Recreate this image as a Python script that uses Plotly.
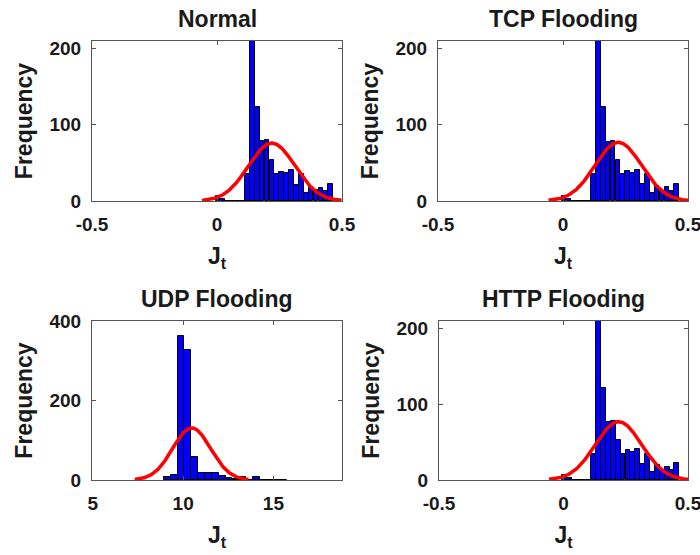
import numpy as np
import plotly.graph_objects as go

# ---------------- data ----------------
titles = ["Normal", "TCP Flooding", "UDP Flooding", "HTTP Flooding"]

jt_centers = [0.004, 0.024, 0.043, 0.063, 0.082, 0.102, 0.122, 0.141, 0.161, 0.180,
              0.200, 0.220, 0.239, 0.259, 0.278, 0.298, 0.318, 0.337, 0.357, 0.376,
              0.396, 0.416, 0.435, 0.455]
jt_bin_width = 0.0196

normal_counts = [7, 2, 0, 0, 0, 0, 35, 220, 123, 79, 80, 54, 36, 38, 37, 41, 21, 36,
                 11, 19, 14, 17, 13, 22]
tcp_counts = [7, 2, 0, 0, 0, 0, 35, 220, 123, 77, 79, 54, 35, 39, 37, 41, 22, 36,
              11, 20, 13, 18, 13, 22]
http_counts = [7, 2, 0, 0, 0, 0, 35, 220, 122, 77, 78, 53, 34, 39, 37, 41, 21, 35,
               11, 20, 13, 17, 13, 22]

udp_centers = [9.12, 9.50, 9.88, 10.26, 10.64, 11.02, 11.40, 11.78, 12.16, 12.54,
               12.92, 13.30, 13.68, 14.06, 14.44, 14.82, 15.20, 15.58]
udp_bin_width = 0.38
udp_counts = [7, 13, 362, 327, 59, 18, 17, 17, 9, 4, 3, 8, 1, 7, 0, 1, 1, 1]

# normal fits (mean, std, peak height)
normal_fit = (0.219, 0.093, 76)
tcp_fit = (0.221, 0.093, 77)
http_fit = (0.221, 0.093, 77)
udp_fit = (10.47, 1.05, 131)

jt_ticks = [-0.5, 0, 0.5]
jt_ticktext = ["-0.5", "0", "0.5"]
udp_ticks = [5, 10, 15]
udp_ticktext = ["5", "10", "15"]
freq_ticks = [0, 100, 200]
udp_freq_ticks = [0, 200, 400]

# ---------------- figure ----------------
W, H = 700, 555
fig = go.Figure()

panels = [
    dict(centers=jt_centers, counts=normal_counts, bw=jt_bin_width, fit=normal_fit,
         xr=[-0.5, 0.5], yr=[0, 210], xt=jt_ticks, xtt=jt_ticktext, yt=freq_ticks,
         px=(92, 342), py=(41, 201)),
    dict(centers=jt_centers, counts=tcp_counts, bw=jt_bin_width, fit=tcp_fit,
         xr=[-0.5, 0.5], yr=[0, 210], xt=jt_ticks, xtt=jt_ticktext, yt=freq_ticks,
         px=(438, 688), py=(41, 201)),
    dict(centers=udp_centers, counts=udp_counts, bw=udp_bin_width, fit=udp_fit,
         xr=[4.95, 18.8], yr=[0, 400], xt=udp_ticks, xtt=udp_ticktext, yt=udp_freq_ticks,
         px=(92, 342), py=(321, 480)),
    dict(centers=jt_centers, counts=http_counts, bw=jt_bin_width, fit=http_fit,
         xr=[-0.5, 0.5], yr=[0, 210], xt=jt_ticks, xtt=jt_ticktext, yt=freq_ticks,
         px=(439, 688), py=(321, 480)),
]

font_family = "Liberation Sans, Arial, sans-serif"
axis_color = "#555555"
txt_color = "#1a1a1a"

for i, p in enumerate(panels):
    n = "" if i == 0 else str(i + 1)
    xa, ya = "x" + n, "y" + n
    fig.add_trace(go.Bar(
        x=p["centers"], y=p["counts"], width=p["bw"],
        marker=dict(color="#0000FF", line=dict(color="black", width=1)),
        xaxis=xa, yaxis=ya, showlegend=False))
    mu, sd, pk = p["fit"]
    xx = np.linspace(mu - 3 * sd, mu + 3 * sd, 200)
    yy = pk * np.exp(-0.5 * ((xx - mu) / sd) ** 2)
    fig.add_trace(go.Scatter(
        x=xx, y=yy, mode="lines", line=dict(color="#FF0000", width=3.5),
        xaxis=xa, yaxis=ya, showlegend=False, cliponaxis=True))

    x0, x1 = p["px"]
    y0, y1 = p["py"]
    common = dict(showline=True, linecolor=axis_color, linewidth=1, mirror="ticks",
                  ticks="inside", ticklen=4, tickcolor=axis_color, showgrid=False,
                  zeroline=False, automargin=False, ticklabeloverflow="allow",
                  tickfont=dict(family=font_family, size=19, color=txt_color))
    fig.layout["xaxis" + n] = dict(
        domain=[x0 / W, x1 / W], range=p["xr"], anchor=ya,
        tickmode="array", tickvals=p["xt"], ticktext=["<b>%s</b>" % t for t in p["xtt"]],
        ticklabelstandoff=6,
        title=dict(text="<b>J<sub>t</sub></b>", standoff=14,
                   font=dict(family=font_family, size=23, color=txt_color)),
        **common)
    fig.layout["yaxis" + n] = dict(
        domain=[1 - y1 / H, 1 - y0 / H], range=p["yr"], anchor=xa,
        tickmode="array", tickvals=p["yt"], ticktext=["<b>%d</b>" % t for t in p["yt"]],
        ticklabelstandoff=6,
        title=dict(text="<b>Frequency</b>", standoff=10,
                   font=dict(family=font_family, size=23, color=txt_color)),
        **common)
    fig.add_annotation(
        text="<b>%s</b>" % titles[i], x=(x0 + x1) / 2 / W, y=1 - (y0 - 22) / H,
        xref="paper", yref="paper", xanchor="center", yanchor="middle",
        showarrow=False, font=dict(family=font_family, size=23, color=txt_color))

fig.update_layout(
    width=W, height=H, margin=dict(l=0, r=0, t=0, b=0),
    paper_bgcolor="white", plot_bgcolor="white", bargap=0,
)

fig.write_html("out.html")
